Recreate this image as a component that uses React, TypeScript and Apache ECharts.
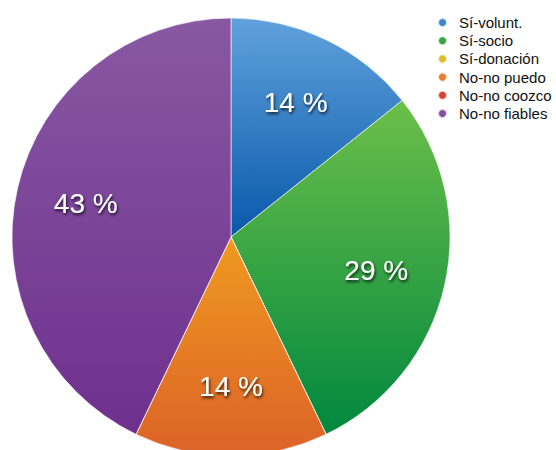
import React, { useEffect, useRef } from "react";
import * as echarts from "echarts";

const categories = ["Sí-volunt.", "Sí-socio", "Sí-donación", "No-no puedo", "No-no coozco", "No-no fiables"];
const values = [1, 2, 0, 1, 0, 3];
const topColors = ["#60a2dc", "#6cbf4a", "#ecce3a", "#f09a20", "#e85a3a", "#8858a2"];
const bottomColors = ["#0858aa", "#00883e", "#d8ae20", "#dc6228", "#d43424", "#6e308e"];
const legendColors = ["#3d85cf", "#3ba244", "#e0bd2f", "#e87e2d", "#dd3f2c", "#7f4fa6"];

export default function App() {
  const ref = useRef<HTMLDivElement>(null);
  useEffect(() => {
    if (!ref.current) return;
    const chart = echarts.init(ref.current, undefined, { renderer: "svg" });
    const mainData = categories.map((name, i) => ({
      name,
      value: values[i],
      itemStyle: {
        color: new echarts.graphic.LinearGradient(0, 0, 0, 1, [
          { offset: 0, color: topColors[i] },
          { offset: 1, color: bottomColors[i] },
        ]),
      },
    }));
    const labelData = categories.map((name, i) => ({
      name,
      value: values[i],
      label: { show: values[i] > 0 },
    }));
    chart.setOption({
      animation: false,
      legend: {
        orient: "vertical",
        left: 437,
        top: 15,
        padding: 0,
        icon: "circle",
        itemWidth: 9,
        itemHeight: 9,
        itemGap: 3.2,
        selectedMode: false,
        textStyle: {
          fontFamily: "Liberation Sans, Arial, sans-serif",
          fontSize: 15,
          lineHeight: 14,
          color: "#111",
          padding: [0, 0, 0, 7],
        },
        data: categories.map((name, i) => ({ name, itemStyle: { color: legendColors[i] } })),
      },
      series: [
        {
          type: "pie",
          center: [231, 237],
          radius: [0, 219],
          startAngle: 90,
          clockwise: true,
          silent: true,
          label: { show: false },
          labelLine: { show: false },
          itemStyle: { borderColor: "rgba(255,255,255,0.75)", borderWidth: 0.8 },
          data: mainData,
        },
        {
          type: "pie",
          center: [231, 237],
          radius: [0, 292],
          startAngle: 90,
          clockwise: true,
          silent: true,
          itemStyle: { color: "rgba(0,0,0,0)", borderWidth: 0 },
          labelLine: { show: false },
          label: {
            show: true,
            position: "inside",
            formatter: (p: any) => `${Math.round(p.percent)} %`,
            color: "#ffffff",
            fontFamily: "Liberation Sans, Arial, sans-serif",
            fontSize: 28,
            textShadowColor: "rgba(0,0,0,0.8)",
            textShadowBlur: 3,
            textShadowOffsetX: 1,
            textShadowOffsetY: 2,
          },
          data: labelData,
        },
      ],
    });
    return () => chart.dispose();
  }, []);
  return (
    <div
      ref={ref}
      style={{ position: "fixed", left: 0, top: 0, width: 556, height: 450, background: "#fff" }}
    />
  );
}
